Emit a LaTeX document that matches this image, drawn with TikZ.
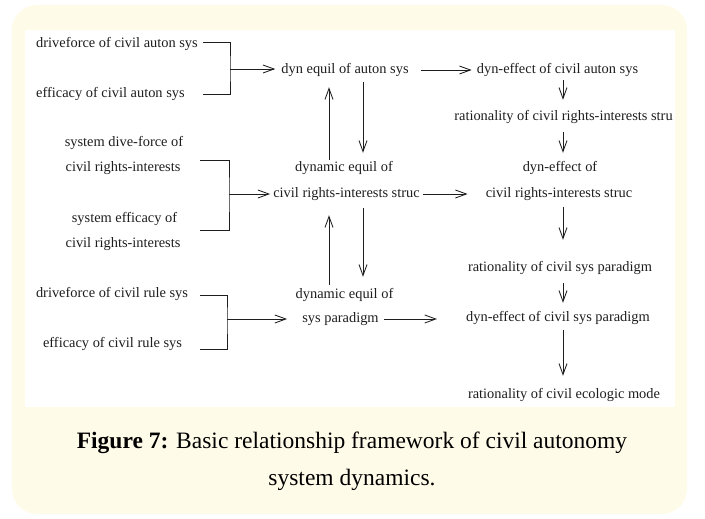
\documentclass[tikz,border=0pt]{standalone}
\usepackage{fontspec}
\setmainfont{Liberation Serif}
\usetikzlibrary{arrows.meta}
\definecolor{cream}{RGB}{255,251,233}
\definecolor{ink}{RGB}{30,30,30}
\begin{document}
\begin{tikzpicture}[x=1pt,y=-1pt,
  lbl/.style={font=\fontsize{14.4}{16}\selectfont, inner sep=0pt,
              text height=9.5pt, text depth=3pt, text=ink},
  wire/.style={draw=ink, line width=0.85pt},
  flow/.style={wire, -{Straight Barb[length=11pt,width=8pt]}},
  capfont/.style={font=\fontsize{23.5}{28}\selectfont, inner sep=0pt,
                  text=black, anchor=base}]
\useasboundingbox (0,0) rectangle (705,519);

% panel and figure area
\fill[cream, rounded corners=25pt] (12,5) rectangle (687,514);
\fill[white] (25,30) rectangle (675,407);

% left column: inputs
\node[lbl, anchor=west] (dA) at (36,44) {driveforce of civil auton sys};
\node[lbl, anchor=west] (eA) at (36,94) {efficacy of civil auton sys};
\node[lbl] (sD)  at (124,143)   {system dive-force of};
\node[lbl] (cR1) at (123,168)   {civil rights-interests};
\node[lbl] (sE)  at (124.5,219) {system efficacy of};
\node[lbl] (cR2) at (123,244)   {civil rights-interests};
\node[lbl] (dRule) at (112,294)   {driveforce of civil rule sys};
\node[lbl] (eRule) at (112.5,344) {efficacy of civil rule sys};

% middle column: equilibria
\node[lbl] (mA)  at (345,70)    {dyn equil of auton sys};
\node[lbl] (mB1) at (344,168)   {dynamic equil of};
\node[lbl] (mB2) at (346.5,194) {civil rights-interests struc};
\node[lbl] (mC1) at (344.5,295) {dynamic equil of};
\node[lbl] (mC2) at (340.5,319) {sys paradigm};

% right column: effects and rationalities
\node[lbl] (rA)  at (557.5,70)  {dyn-effect of civil auton sys};
\node[lbl] (rB)  at (563.5,117) {rationality of civil rights-interests stru};
\node[lbl] (rC1) at (560,168)   {dyn-effect of};
\node[lbl] (rC2) at (559,194)   {civil rights-interests struc};
\node[lbl] (rD)  at (560,268)   {rationality of civil sys paradigm};
\node[lbl] (rE)  at (558,318)   {dyn-effect of civil sys paradigm};
\node[lbl] (rF)  at (564,395)   {rationality of civil ecologic mode};

% brackets joining each pair of inputs
\coordinate (b1a) at (203,42);  \coordinate (b1m) at (230,69);  \coordinate (b1b) at (203,94);
\coordinate (b2a) at (200,160); \coordinate (b2m) at (229,194); \coordinate (b2b) at (200,230);
\coordinate (b3a) at (200,295); \coordinate (b3m) at (227,319); \coordinate (b3b) at (200,349);
\draw[wire] (b1a) -| (b1m) |- (b1b);
\draw[wire] (b2a) -| (b2m) |- (b2b);
\draw[wire] (b3a) -| (b3m) |- (b3b);
\draw[flow, shorten >=6pt]  (b1m) -- (b1m -| mA.west);
\draw[flow, shorten >=3pt]  (b2m) -- (b2m -| mB2.west);
\draw[flow, shorten >=15pt] (b3m) -- (b3m -| mC2.west);

% equilibria to effects
\draw[flow, shorten <=12pt, shorten >=5pt]  (mA.east)  -- (rA.west);
\draw[flow, shorten <=3pt,  shorten >=18pt] (mB2.east) -- (rC2.west);
\draw[flow, shorten <=5pt,  shorten >=29pt] (mC2.east) -- (mC2.east -| rE.west);

% feedback between equilibria
\draw[flow, shorten <=5.75pt, shorten >=8.75pt]
  ([xshift=18pt]mA.south) -- ([xshift=18pt]mA.south |- mB1.north);
\draw[flow, shorten <=1.75pt, shorten >=10.75pt]
  ([xshift=-15pt]mB1.north) -- ([xshift=-15pt]mB1.north |- mA.south);
\draw[flow, shorten <=7.75pt, shorten >=11.75pt]
  ([xshift=16.5pt]mB2.south) -- ([xshift=16.5pt]mB2.south |- mC1.north);
\draw[flow, shorten <=3.75pt, shorten >=14.75pt]
  ([xshift=-15.5pt]mC1.north) -- ([xshift=-15.5pt]mC1.north |- mB2.south);

% chain down the right column
\draw[flow, shorten <=3.75pt, shorten >=10.75pt]
  ([xshift=5.5pt]rA.south) -- ([xshift=5.5pt]rA.south |- rB.north);
\draw[flow, shorten <=8.75pt, shorten >=8.75pt]
  ([xshift=-0.5pt]rB.south) -- ([xshift=-0.5pt]rB.south |- rC1.north);
\draw[flow, shorten <=6.75pt, shorten >=21.75pt]
  ([xshift=4pt]rC2.south) -- ([xshift=4pt]rC2.south |- rD.north);
\draw[flow, shorten <=8.75pt, shorten >=8.75pt]
  ([xshift=3pt]rD.south) -- ([xshift=3pt]rD.south |- rE.north);
\draw[flow, shorten <=5.75pt, shorten >=12.75pt]
  ([xshift=5pt]rE.south) -- ([xshift=5pt]rE.south |- rF.north);

% caption
\node[capfont] (cap1) at (352,448) {\textbf{Figure 7:} Basic relationship framework of civil autonomy};
\node[capfont] (cap2) at (352,485) {system dynamics.};
\end{tikzpicture}
\end{document}
